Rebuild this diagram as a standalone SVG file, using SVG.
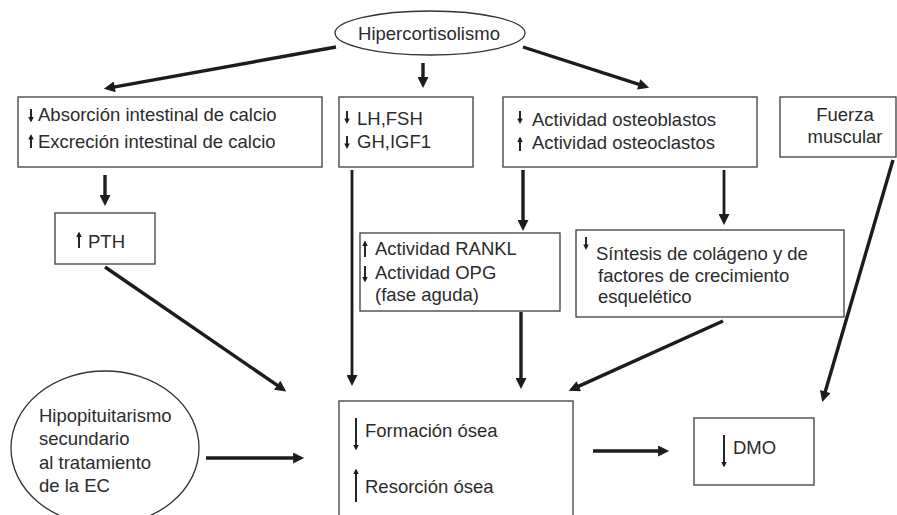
<svg xmlns="http://www.w3.org/2000/svg" width="897" height="515" viewBox="0 0 897 515">
<defs>
<style>
.box{fill:#fff;stroke:#4a4a4a;stroke-width:1.4}
.ell{fill:#fff;stroke:#333;stroke-width:1.3}
.t{font-family:"Liberation Sans",Arial,sans-serif;font-size:18.5px;fill:#2b2b2b}
.c{stroke:#1c1c1c;stroke-width:3.4;fill:none;marker-end:url(#ah)}
.s{stroke:#1c1c1c;stroke-width:1.9;fill:none;marker-end:url(#sa)}
</style>
<marker id="ah" viewBox="0 0 10 10" refX="1" refY="5" markerWidth="12" markerHeight="11" markerUnits="userSpaceOnUse" orient="auto"><path d="M0,0 L10,5 L0,10 z" fill="#1c1c1c"/></marker>
<marker id="sa" viewBox="0 0 10 10" refX="1" refY="5" markerWidth="5.5" markerHeight="6.5" markerUnits="userSpaceOnUse" orient="auto"><path d="M0,0 L10,5 L0,10 z" fill="#1c1c1c"/></marker>
</defs>
<rect width="897" height="515" fill="#fff"/>

<g id="connectors">
<line class="c" x1="336" y1="47" x2="113.6" y2="87.1"/>
<line class="c" x1="423" y1="63" x2="423" y2="78.2"/>
<line class="c" x1="523" y1="47" x2="639.7" y2="84.7"/>
<line class="c" x1="105" y1="175" x2="105" y2="196.2"/>
<line class="c" x1="352" y1="170" x2="352" y2="376.2" style="stroke-width:2.8"/>
<line class="c" x1="105" y1="267" x2="278.1" y2="385.9"/>
<line class="c" x1="523" y1="170" x2="523" y2="221.2"/>
<line class="c" x1="724" y1="170" x2="724" y2="215.2" style="stroke-width:2.8"/>
<line class="c" x1="521" y1="312" x2="521" y2="379.2"/>
<line class="c" x1="723" y1="321" x2="577.8" y2="386.6"/>
<line class="c" x1="893" y1="160" x2="825" y2="392.6"/>
<line class="c" x1="206" y1="458" x2="294.2" y2="458"/>
<line class="c" x1="593" y1="451" x2="659.2" y2="451"/>
</g>

<g id="hipercortisolismo">
<ellipse class="ell" cx="430" cy="33" rx="95" ry="22"/>
<text class="t" x="429" y="40" text-anchor="middle">Hipercortisolismo</text>
</g>

<g id="calcio">
<rect class="box" x="18" y="97" width="304" height="70"/>
<line class="s" x1="31" y1="109" x2="31" y2="117.5"/>
<line class="s" x1="31" y1="148" x2="31" y2="139"/>
<text class="t" x="38" y="121">Absorción intestinal de calcio</text>
<text class="t" x="38" y="148">Excreción intestinal de calcio</text>
</g>

<g id="hormonas">
<rect class="box" x="339" y="97" width="134" height="70"/>
<line class="s" x1="347" y1="111" x2="347" y2="119"/>
<line class="s" x1="347" y1="136" x2="347" y2="144"/>
<text class="t" x="357" y="125">LH,FSH</text>
<text class="t" x="357" y="148">GH,IGF1</text>
</g>

<g id="osteo">
<rect class="box" x="503" y="97" width="254" height="70"/>
<line class="s" x1="520" y1="111" x2="520" y2="119"/>
<line class="s" x1="520" y1="151" x2="520" y2="141.5"/>
<text class="t" x="532" y="126">Actividad osteoblastos</text>
<text class="t" x="532" y="149">Actividad osteoclastos</text>
</g>

<g id="fuerza">
<rect class="box" x="780" y="97" width="116" height="60"/>
<text class="t" x="845" y="121" text-anchor="middle">Fuerza</text>
<text class="t" x="845" y="143" text-anchor="middle">muscular</text>
</g>

<g id="pth">
<rect class="box" x="55" y="213" width="100" height="51"/>
<line class="s" x1="79" y1="248" x2="79" y2="236.5"/>
<text class="t" x="88" y="248">PTH</text>
</g>

<g id="rankl">
<rect class="box" x="360" y="233" width="200" height="78"/>
<line class="s" x1="365" y1="257" x2="365" y2="245.5"/>
<line class="s" x1="365" y1="266" x2="365" y2="277.5"/>
<text class="t" x="375" y="255">Actividad RANKL</text>
<text class="t" x="375" y="279">Actividad OPG</text>
<text class="t" x="375" y="301">(fase aguda)</text>
</g>

<g id="sintesis">
<rect class="box" x="576" y="230" width="268" height="87"/>
<line class="s" x1="586" y1="237" x2="586" y2="245"/>
<text class="t" x="596" y="260">Síntesis de colágeno y de</text>
<text class="t" x="598" y="282">factores de crecimiento</text>
<text class="t" x="598" y="303">esquelético</text>
</g>

<g id="hipopituitarismo">
<ellipse class="ell" cx="105" cy="448" rx="94" ry="77"/>
<text class="t" x="39" y="422">Hipopituitarismo</text>
<text class="t" x="39" y="445">secundario</text>
<text class="t" x="39" y="469">al tratamiento</text>
<text class="t" x="39" y="492">de la EC</text>
</g>

<g id="formacion">
<rect class="box" x="339" y="401" width="234" height="130"/>
<line class="s" x1="356" y1="418" x2="356" y2="445.5"/>
<line class="s" x1="356" y1="502" x2="356" y2="473.5"/>
<text class="t" x="365" y="437">Formación ósea</text>
<text class="t" x="365" y="493">Resorción ósea</text>
</g>

<g id="dmo">
<rect class="box" x="694" y="418" width="120" height="67"/>
<line class="s" x1="724" y1="435" x2="724" y2="462.5"/>
<text class="t" x="733" y="454">DMO</text>
</g>
</svg>
